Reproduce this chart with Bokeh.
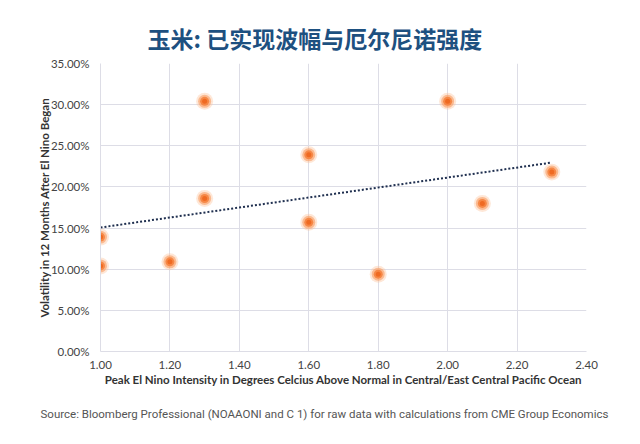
import numpy as np
from bokeh.plotting import figure
from bokeh.models import Range1d, NumeralTickFormatter, FixedTicker, Title
from bokeh.embed import file_html
from bokeh.resources import INLINE

# Data
intensity = [1.00, 1.00, 1.20, 1.30, 1.30, 1.60, 1.60, 1.80, 2.00, 2.10, 2.30]
volatility = [0.139, 0.104, 0.109, 0.304, 0.186, 0.239, 0.157, 0.094, 0.304, 0.180, 0.218]
x_ticks = [1.0, 1.2, 1.4, 1.6, 1.8, 2.0, 2.2, 2.4]
y_ticks = [0.0, 0.05, 0.10, 0.15, 0.20, 0.25, 0.30, 0.35]

title_text = "玉米: 已实现波幅与厄尔尼诺强度"
x_label = "Peak El Nino Intensity in Degrees Celcius Above Normal in Central/East Central Pacific Ocean"
y_label = "Volatility in 12 Months After El Nino Began"
source_text = "Source: Bloomberg Professional (NOAAONI and C 1) for raw data with calculations from CME Group Economics"

p = figure(width=624, height=436, output_backend="svg", toolbar_location=None,
           x_range=Range1d(1.0, 2.4), y_range=Range1d(0.0, 0.35),
           min_border_left=100, min_border_right=38, min_border_top=63, min_border_bottom=84)
p.outline_line_color = None
p.background_fill_color = "white"
p.border_fill_color = "white"

# Title
p.title.text = title_text
p.title.text_font = "Noto Sans CJK SC"
p.title.text_font_size = "23px"
p.title.text_font_style = "bold"
p.title.text_color = "#1d5080"
p.title.align = "left"
p.title.offset = 47
p.title.vertical_align = "top"
p.title.standoff = 14

# Grid
for g in (p.xgrid, p.ygrid):
    g.grid_line_color = "#dddde6"
    g.grid_line_width = 1
p.xgrid.ticker = FixedTicker(ticks=x_ticks)
p.ygrid.ticker = FixedTicker(ticks=y_ticks)

# Axes
p.xaxis.ticker = FixedTicker(ticks=x_ticks)
p.yaxis.ticker = FixedTicker(ticks=y_ticks)
p.xaxis.formatter = NumeralTickFormatter(format="0.00")
p.yaxis.formatter = NumeralTickFormatter(format="0.00%")
for ax in (p.xaxis[0], p.yaxis[0]):
    ax.axis_line_color = "#dddde6"
    ax.major_tick_line_color = None
    ax.minor_tick_line_color = None
    ax.major_label_text_font = "Lato"
    ax.major_label_text_font_size = "11.5px"
    ax.major_label_text_color = "#444444"
    ax.axis_label_text_font = "Lato"
    ax.axis_label_text_font_size = "11.5px"
    ax.axis_label_text_font_style = "bold"
    ax.axis_label_text_color = "#333333"
p.xaxis.axis_label = x_label
p.yaxis.axis_label = y_label
p.xaxis.major_label_standoff = 3
p.yaxis.major_label_standoff = 5
p.xaxis.axis_label_standoff = 1
p.yaxis.axis_label_standoff = -3

# Trend line (least squares from the data)
slope, intercept = np.polyfit(intensity, volatility, 1)
tx = [min(intensity), max(intensity)]
ty = [slope * v + intercept for v in tx]
p.line(tx, ty, line_color="#1f2f4f", line_width=2, line_dash="2 2")

# Glowing markers
p.scatter(intensity, volatility, size=17, fill_color="#fcc49c", fill_alpha=0.4, line_color=None)
p.scatter(intensity, volatility, size=13, fill_color="#f9a26a", fill_alpha=0.65, line_color=None)
p.scatter(intensity, volatility, size=9, fill_color="#f57f39", fill_alpha=0.85, line_color=None)
p.scatter(intensity, volatility, size=5, fill_color="#ef6a22", fill_alpha=1.0, line_color=None)

# Source
src = Title(text=source_text, align="left", offset=-60, text_font="Roboto",
            text_font_size="11.5px", text_font_style="normal", text_color="#555555",
            vertical_align="bottom", standoff=32)
p.add_layout(src, "below")

open("out.html", "w").write(file_html(p, INLINE))
